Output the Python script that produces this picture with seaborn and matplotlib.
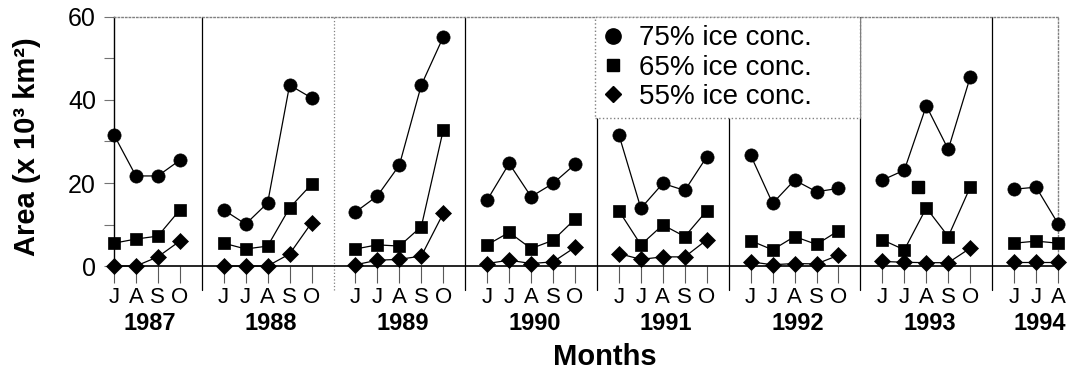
import pandas as pd
import seaborn as sns
import matplotlib.pyplot as plt
from matplotlib.lines import Line2D

# Values (area, x 10^3 km^2), June..October each year
years = [1987, 1988, 1989, 1990, 1991, 1992, 1993, 1994]
months = {
    1987: [7, 8, 9, 10],
    1988: [6, 7, 8, 9, 10],
    1989: [6, 7, 8, 9, 10],
    1990: [6, 7, 8, 9, 10],
    1991: [6, 7, 8, 9, 10],
    1992: [6, 7, 8, 9, 10],
    1993: [6, 7, 8, 9, 10],
    1994: [6, 7, 8],
}
conc75 = {
    1987: [31.6, 21.7, 21.7, 25.5],
    1988: [13.5, 10.1, 15.2, 43.6, 40.5],
    1989: [13.0, 16.9, 24.3, 43.6, 55.2],
    1990: [15.9, 24.7, 16.7, 19.9, 24.5],
    1991: [31.6, 13.9, 19.9, 18.2, 26.3],
    1992: [26.7, 15.1, 20.7, 17.9, 18.7],
    1993: [20.7, 23.1, 38.6, 28.1, 45.5],
    1994: [18.5, 19.0, 10.2],
}
conc65 = {
    1987: [5.5, 6.5, 7.2, 13.5],
    1988: [5.5, 4.1, 4.8, 14.0, 19.7],
    1989: [4.1, 5.1, 4.8, 9.5, 32.8],
    1990: [5.1, 8.1, 4.2, 6.2, 11.3],
    1991: [13.3, 5.1, 9.9, 7.1, 13.3],
    1992: [6.1, 3.9, 7.1, 5.2, 8.5],
    1993: [6.3, 3.9, 14.0, 7.1, 19.0],
    1994: [5.5, 6.0, 5.5],
}
conc55 = {
    1987: [0.0, 0.0, 2.2, 6.0],
    1988: [0.0, 0.0, 0.0, 2.9, 10.4],
    1989: [0.3, 1.4, 1.6, 2.4, 12.7],
    1990: [0.6, 1.4, 0.6, 1.0, 4.5],
    1991: [3.0, 1.6, 2.2, 2.2, 6.3],
    1992: [1.0, 0.3, 0.6, 0.5, 2.6],
    1993: [1.1, 0.9, 0.8, 0.8, 4.3],
    1994: [1.0, 1.0, 1.0],
}
# lone unconnected 65% point in 1993 (between July and August)
stray65_year, stray65_month, stray65_value = 1993, 7.6, 19.0

series = ["75% ice conc.", "65% ice conc.", "55% ice conc."]
series_data = [conc75, conc65, conc55]
markers = ["o", "s", "D"]
msizes = [9.5, 9.0, 8.3]
month_letters = {6: "J", 7: "J", 8: "A", 9: "S", 10: "O"}


def xpos(year, month):
    return (year - years[0]) * 6 + (month - 5)


rows = []
for name, d in zip(series, series_data):
    for y in years:
        for m, v in zip(months[y], d[y]):
            rows.append({"series": name, "year": y, "month": m,
                         "pos": xpos(y, m), "area": v})
df = pd.DataFrame(rows)

sns.set_style("ticks")
plt.rcParams["font.family"] = ["Liberation Sans", "DejaVu Sans"]
plt.rcParams["text.color"] = "black"
plt.rcParams["axes.labelcolor"] = "black"
plt.rcParams["xtick.labelcolor"] = "black"
plt.rcParams["ytick.labelcolor"] = "black"

fig = plt.figure(figsize=(10.67, 3.71), dpi=100)
ax = fig.add_axes([0.1068, 0.283, 0.8848, 0.6712])

for name, mk, ms in zip(series, markers, msizes):
    sub = df[df["series"] == name]
    sns.lineplot(data=sub, x="pos", y="area", units="year", estimator=None,
                 marker=mk, markersize=ms, color="black", lw=0.9,
                 markeredgecolor="black", markeredgewidth=0.5, ax=ax)

ax.plot([xpos(stray65_year, stray65_month)], [stray65_value], "s",
        color="black", markersize=msizes[1], linestyle="none")

for line in ax.lines:
    line.set_clip_on(False)
    line.set_zorder(4)

ax.set_xlim(2, 45)
ax.set_ylim(0, 60)

# year dividers, running down into the tick label area
divider_styles = ["solid", "dotted", "solid", "solid", "solid", "solid", "solid"]
for i, ls in enumerate(divider_styles):
    col = "black" if ls == "solid" else "0.5"
    ax.axvline(6 * (i + 1), ymin=-0.096, ymax=1, color=col, lw=0.9,
               linestyle=ls, clip_on=False, zorder=2)

# month ticks
tick_pos, tick_lab = [], []
for y in years:
    for m in months[y]:
        tick_pos.append(xpos(y, m))
        tick_lab.append(month_letters[m])
ax.set_xticks(tick_pos)
ax.set_xticklabels(tick_lab, fontsize=16)
ax.tick_params(axis="x", direction="out", length=12, width=0.8,
               color="0.35", labelcolor="black", pad=3)

ax.set_yticks([0, 20, 40, 60])
ax.set_yticks([10, 30, 50], minor=True)
ax.tick_params(axis="y", which="both", direction="out", length=7,
               width=0.8, color="0.45", labelcolor="black", labelsize=18, pad=6)

# year labels
for y in years:
    ps = [xpos(y, m) for m in months[y]]
    ax.text(sum(ps) / len(ps) + 0.15, -0.229, str(y),
            transform=ax.get_xaxis_transform(), color="black",
            ha="center", va="center", fontsize=17, fontweight="bold")

ax.set_xlabel("")
ax.set_ylabel("Area (x 10³ km²)", fontsize=21, fontweight="bold", color="black")
ax.yaxis.set_label_coords(-0.077, 0.48)
ax.text(0.52, -0.365, "Months", transform=ax.transAxes, ha="center",
        va="center", fontsize=21, fontweight="bold", color="black")

for side in ["top", "right"]:
    ax.spines[side].set_color("0.5")
    ax.spines[side].set_linestyle("dotted")
    ax.spines[side].set_linewidth(1)
ax.spines["left"].set_color("black")
ax.spines["bottom"].set_color("black")
ax.spines["left"].set_linewidth(1)
ax.spines["bottom"].set_linewidth(1.2)

leg_sizes = [11, 8, 8.5]
handles = [Line2D([], [], marker=mk, markersize=ms, color="black",
                  linestyle="none") for mk, ms in zip(markers, leg_sizes)]
leg = ax.legend(handles, series, loc="upper left",
                bbox_to_anchor=(0.5095, 0.0, 0.2807, 1.0), mode="expand",
                borderaxespad=0, fontsize=20, handlelength=0.7,
                handletextpad=0.6, borderpad=0.3, labelspacing=0.12,
                fancybox=False, framealpha=1, facecolor="white",
                edgecolor="0.5", labelcolor="black")
leg.get_frame().set_linestyle("dotted")
leg.get_frame().set_linewidth(1)
leg.set_zorder(5)

fig.savefig("out.png", dpi=100)
